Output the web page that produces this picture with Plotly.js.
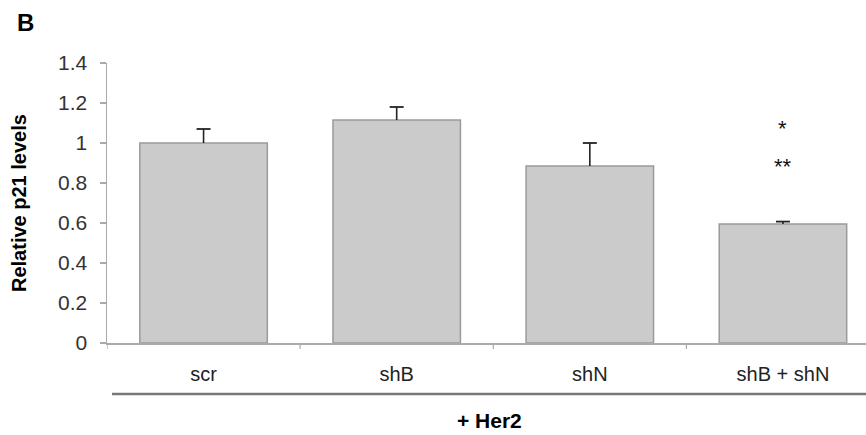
<!DOCTYPE html>
<html>
<head>
<meta charset="utf-8">
<script src="https://cdn.plot.ly/plotly-3.0.1.min.js"></script>
<style>html,body{margin:0;padding:0;background:#fff;}#chart{width:866px;height:435px;}</style>
</head>
<body>
<div id="chart"></div>
<script>
const categories = ["scr", "shB", "shN", "shB + shN"];
const values = [1.0, 1.115, 0.885, 0.595];
const errorsUp = [0.07, 0.065, 0.115, 0.012];
const sigLabels = ["*", "**"];
const sigY = [1.075, 0.885];
const yTicks = [0, 0.2, 0.4, 0.6, 0.8, 1, 1.2, 1.4];
const yTickText = ["0", "0.2", "0.4", "0.6", "0.8", "1", "1.2", "1.4"];

const font = "Liberation Sans, Arial, sans-serif";
const xs = categories.map((c, i) => i);

const bars = {
  type: "bar",
  x: xs,
  y: values,
  width: 0.66,
  marker: {color: "#cbcbcb", line: {color: "#9a9a9a", width: 1.5}},
  hoverinfo: "skip"
};
const errTops = values.map((v, i) => v + errorsUp[i]);
const errs = {
  type: "scatter",
  mode: "markers",
  x: xs,
  y: errTops,
  marker: {symbol: "line-ew", size: 10, line: {color: "#222", width: 1.8}},
  error_y: {type: "data", symmetric: false, array: [0,0,0,0], arrayminus: errorsUp, color: "#222", thickness: 1.6, width: 0},
  hoverinfo: "skip"
};

const annotations = sigLabels.map((t, i) => ({
  x: 3, y: sigY[i], xref: "x", yref: "y", text: t, showarrow: false,
  font: {family: font, size: 22, color: "#111"}
}));
annotations.push({
  xref: "paper", yref: "paper", x: -88 / 759, xanchor: "center", y: 0.5, yanchor: "middle",
  text: "<b>Relative p21 levels</b>",
  textangle: -90, showarrow: false, font: {family: font, size: 20, color: "#000"}
});
annotations.push({
  xref: "paper", yref: "paper", x: -92 / 759, xanchor: "left", y: 1 + 41 / 280, yanchor: "middle",
  text: "<b>B</b>", showarrow: false,
  font: {family: font, size: 24, color: "#000"}
});
annotations.push({
  xref: "paper", yref: "paper", x: (489 - 107) / 759, xanchor: "center", y: -(420 - 343) / 280, yanchor: "middle",
  text: "<b>+ Her2</b>", showarrow: false,
  font: {family: font, size: 21, color: "#000"}
});

const layout = {
  width: 866, height: 435,
  margin: {l: 107, r: 0, t: 63, b: 92},
  paper_bgcolor: "#fff", plot_bgcolor: "#fff",
  showlegend: false,
  xaxis: {
    range: [-0.5, 3.43],
    tickmode: "array",
    tickvals: xs,
    ticktext: categories,
    ticks: "", showgrid: false, zeroline: false,
    showline: true, linecolor: "#aaaaaa", linewidth: 1.5,
    tickfont: {family: font, size: 20, color: "#222"},
    ticklabelstandoff: 12,
    fixedrange: true
  },
  yaxis: {
    range: [0, 1.4],
    tickmode: "array", tickvals: yTicks, ticktext: yTickText,
    ticks: "outside", ticklen: 6, tickcolor: "#aaaaaa", tickwidth: 1.2,
    showgrid: false, zeroline: false,
    showline: true, linecolor: "#aaaaaa", linewidth: 1.5,
    tickfont: {family: font, size: 21, color: "#333"},
    ticklabelstandoff: 8,
    fixedrange: true
  },
  shapes: [
    {type: "line", xref: "paper", yref: "paper", x0: (112 - 107) / 759, x1: 1, y0: -51 / 280, y1: -51 / 280,
     line: {color: "#777", width: 2.5}},
  ].concat([-0.5, 0.5, 1.5, 2.5].map(v => ({
    type: "line", xref: "x", yref: "paper", x0: v, x1: v, y0: 0, y1: -6 / 280,
    line: {color: "#aaaaaa", width: 1.2}
  }))),
  annotations: annotations
};

Plotly.newPlot("chart", [bars, errs], layout, {displayModeBar: false, staticPlot: true});
</script>
</body>
</html>
